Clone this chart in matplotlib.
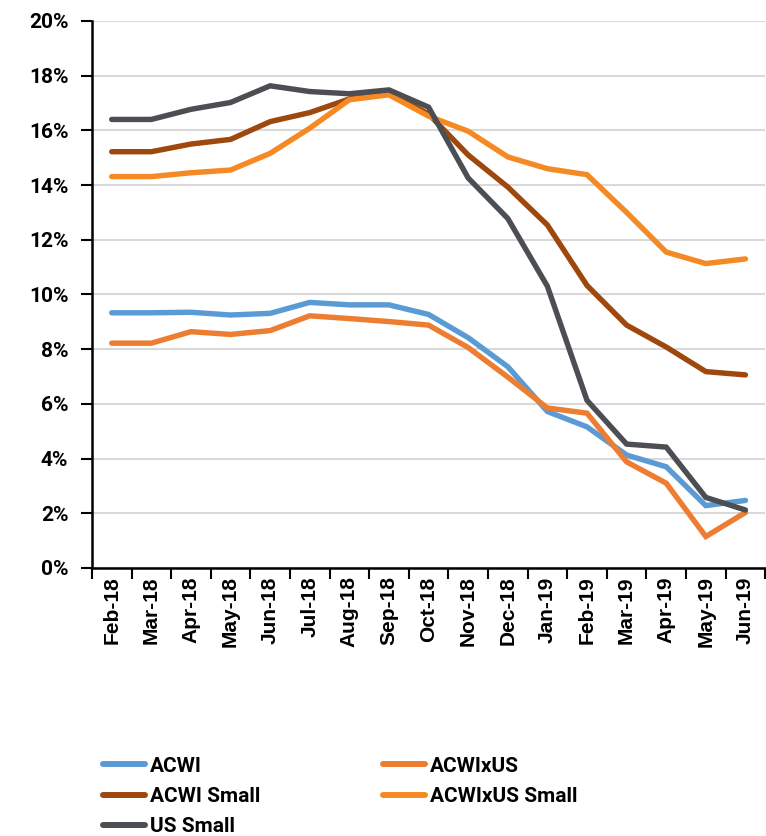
import matplotlib
matplotlib.use('Agg')
import matplotlib.pyplot as plt
from matplotlib.ticker import FuncFormatter

plt.rcParams['font.family'] = ['Roboto', 'DejaVu Sans']
plt.rcParams['font.weight'] = 'bold'

months = ['Feb-18', 'Mar-18', 'Apr-18', 'May-18', 'Jun-18', 'Jul-18', 'Aug-18', 'Sep-18',
          'Oct-18', 'Nov-18', 'Dec-18', 'Jan-19', 'Feb-19', 'Mar-19', 'Apr-19', 'May-19', 'Jun-19']

acwi = [9.33, 9.33, 9.35, 9.25, 9.31, 9.71, 9.62, 9.62, 9.27, 8.42, 7.36, 5.72, 5.16, 4.13, 3.70, 2.28, 2.47]
acwixus = [8.22, 8.22, 8.64, 8.54, 8.68, 9.22, 9.12, 9.01, 8.88, 8.06, 6.98, 5.85, 5.66, 3.88, 3.10, 1.15, 2.03]
acwi_small = [15.22, 15.22, 15.50, 15.67, 16.32, 16.65, 17.15, 17.38, 16.60, 15.10, 13.93, 12.54, 10.33, 8.88, 8.08, 7.18, 7.06]
acwixus_small = [14.31, 14.31, 14.45, 14.55, 15.16, 16.08, 17.12, 17.30, 16.52, 15.97, 15.03, 14.60, 14.38, 13.00, 11.55, 11.13, 11.30]
us_small = [16.40, 16.40, 16.77, 17.02, 17.63, 17.42, 17.34, 17.48, 16.85, 14.26, 12.78, 10.30, 6.13, 4.53, 4.42, 2.58, 2.12]

series = [
    ('ACWI', acwi, '#5B9BD5'),
    ('ACWIxUS', acwixus, '#ED7D31'),
    ('ACWI Small', acwi_small, '#9E480E'),
    ('ACWIxUS Small', acwixus_small, '#F58A24'),
    ('US Small', us_small, '#4B4E52'),
]

fig = plt.figure(figsize=(7.66, 8.36), dpi=100)
ax = fig.add_axes([0.12, 0.3206, 0.879, 0.6543])

x = list(range(len(months)))
lines = {}
for name, vals, color in series:
    ln, = ax.plot(x, vals, color=color, linewidth=3.9, solid_capstyle='round',
                  solid_joinstyle='miter', label=name)
    lines[name] = ln

ax.set_xlim(-0.5, len(months) - 0.5)
ax.set_ylim(0, 20)
ax.set_yticks(range(0, 21, 2))
ax.yaxis.set_major_formatter(FuncFormatter(lambda v, p: '%d%%' % v))
# ticks sit between categories, labels in the middle
ax.set_xticks([i + 0.5 for i in range(-1, len(months))])
ax.set_xticklabels([])
ax.set_xticks(x, minor=True)
ax.set_xticklabels(months, minor=True, rotation=90, family=['Liberation Sans', 'DejaVu Sans'],
                   fontweight='bold', fontsize=15)
ax.tick_params(axis='x', which='major', direction='out', length=8, width=1.5, color='black')
ax.tick_params(axis='x', which='minor', length=0, pad=6)
ax.tick_params(axis='y', direction='out', length=8, width=1.5, labelsize=15, pad=9)

ax.grid(axis='y', color='#D9D9D9', linewidth=1.5)
ax.set_axisbelow(True)
for s in ['top', 'right']:
    ax.spines[s].set_visible(False)
for s in ['left', 'bottom']:
    ax.spines[s].set_linewidth(1.8)
    ax.spines[s].set_color('black')

leg_kw = dict(frameon=False, fontsize=15, loc='upper left', handlelength=2.0,
              handletextpad=0.25, labelspacing=0.55, borderaxespad=0)
col1 = ['ACWI', 'ACWI Small', 'US Small']
col2 = ['ACWIxUS', 'ACWIxUS Small']
for leg_lines, xpos in [(col1, 0.124), (col2, 0.4896)]:
    leg = fig.legend([lines[n] for n in leg_lines], leg_lines, bbox_to_anchor=(xpos, 0.105), **leg_kw)
    for h in leg.legend_handles:
        h.set_linewidth(4.3)

fig.savefig('out.png', dpi=100)
